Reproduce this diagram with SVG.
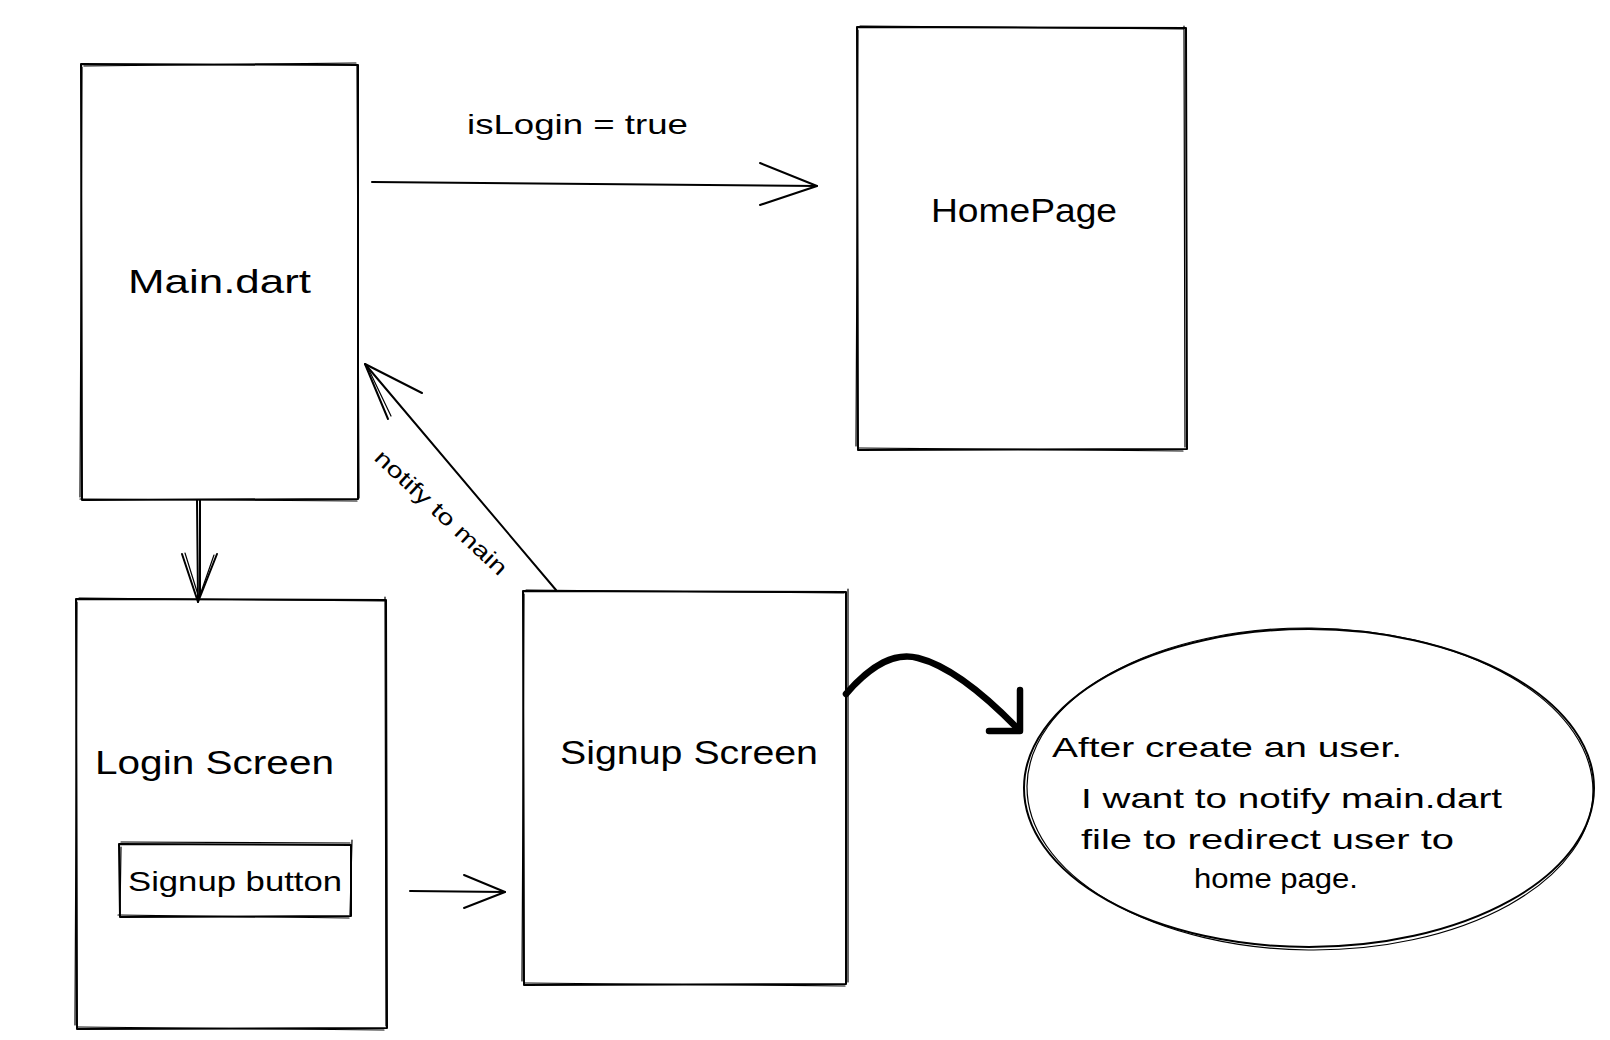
<svg xmlns="http://www.w3.org/2000/svg" width="1610" height="1040" viewBox="0 0 1610 1040">
<style>
.sk{fill:none;stroke:#000;stroke-width:2;stroke-linecap:round;stroke-linejoin:round}
.sk2{fill:none;stroke:#000;stroke-width:1.2;stroke-linecap:round}
.thick{fill:none;stroke:#000;stroke-width:6.5;stroke-linecap:round;stroke-linejoin:round}
.t{font-family:"Liberation Sans",Arial,sans-serif;fill:#000}
.big{font-size:34px}
.med{font-size:28px}
.sm{font-size:22px}
</style>
<rect width="1610" height="1040" fill="#fff"/>

<g id="main-dart">
<path class="sk" d="M81 64 L358 65 L358 499 L82 500 Z"/>
<path class="sk2" d="M84 66 L356 63 M357 66 L359 498 M357 501 L80 499 M80 497 L82 67"/>
<text class="t big" x="128" y="293" textLength="183" lengthAdjust="spacingAndGlyphs">Main.dart</text>
</g>

<g id="homepage">
<path class="sk" d="M857 27 L1186 28 L1187 449 L858 450 Z"/>
<path class="sk2" d="M860 26 L1183 29 M1184 26 L1185 447 M1183 451 L859 448 M856 446 L858 30"/>
<text class="t big" x="931" y="222" textLength="186" lengthAdjust="spacingAndGlyphs">HomePage</text>
</g>

<g id="login-screen">
<path class="sk" d="M76 599 L386 600 L387 1028 L77 1029 Z"/>
<path class="sk2" d="M79 598 L384 601 M385 597 L386 1026 M384 1030 L78 1027 M75 1025 L77 602"/>
<text class="t big" x="95" y="774" textLength="239" lengthAdjust="spacingAndGlyphs">Login Screen</text>
</g>

<g id="signup-button">
<path class="sk" d="M119 844 L351 845 L351 916 L120 917 Z"/>
<path class="sk2" d="M121 842 L350 843 M352 840 L350 915 M349 918 L118 915 M120 913 L121 847"/>
<text class="t med" x="128" y="891" textLength="214" lengthAdjust="spacingAndGlyphs">Signup button</text>
</g>

<g id="signup-screen">
<path class="sk" d="M523 591 L846 592 L846 984 L524 985 Z"/>
<path class="sk2" d="M526 590 L844 593 M848 589 L848 982 M845 986 L525 983 M522 981 L524 594"/>
<text class="t big" x="560" y="764" textLength="258" lengthAdjust="spacingAndGlyphs">Signup Screen</text>
</g>

<g id="note">
<ellipse class="sk" cx="1309" cy="788" rx="285" ry="159"/>
<ellipse class="sk2" cx="1310" cy="789" rx="283" ry="161" transform="rotate(0.6 1310 789)"/>
<text class="t med" x="1052" y="757" textLength="350" lengthAdjust="spacingAndGlyphs">After create an user.</text>
<text class="t med" x="1081" y="808" textLength="421" lengthAdjust="spacingAndGlyphs">I want to notify main.dart</text>
<text class="t med" x="1081" y="849" textLength="373" lengthAdjust="spacingAndGlyphs">file to redirect user to</text>
<text class="t med" x="1194" y="888" textLength="164" lengthAdjust="spacingAndGlyphs">home page.</text>
</g>

<g id="connectors">
<!-- isLogin = true -->
<path class="sk" d="M372 182 L817 186"/>
<path class="sk" d="M760 163 L817 186 L760 205"/>
<text class="t med" x="467" y="134" textLength="221" lengthAdjust="spacingAndGlyphs">isLogin = true</text>
<!-- main -> login -->
<path class="sk" d="M197 500 L198 602 M200 500 L200 596"/>
<path class="sk" d="M182 554 L198 602 L217 554"/>
<path class="sk2" d="M185 553 L199 598 L214 555"/>
<!-- login -> signup -->
<path class="sk" d="M410 891 L505 892"/>
<path class="sk" d="M464 875 L505 892 L464 908"/>
<!-- notify to main -->
<path class="sk" d="M556 590 L365 364"/>
<path class="sk" d="M422 393 L365 364 L388 419"/>
<path class="sk2" d="M368 368 L391 416"/>
<text class="t sm" x="0" y="0" text-anchor="middle" textLength="172" lengthAdjust="spacingAndGlyphs" transform="translate(436 518) rotate(43)">notify to main</text>
<!-- signup -> note -->
<path class="thick" d="M846 694 C 872 664, 895 652, 918 658 C 950 666, 985 695, 1018 729"/>
<path class="thick" d="M1020 690 L1020 731 L989 731"/>
</g>
</svg>
